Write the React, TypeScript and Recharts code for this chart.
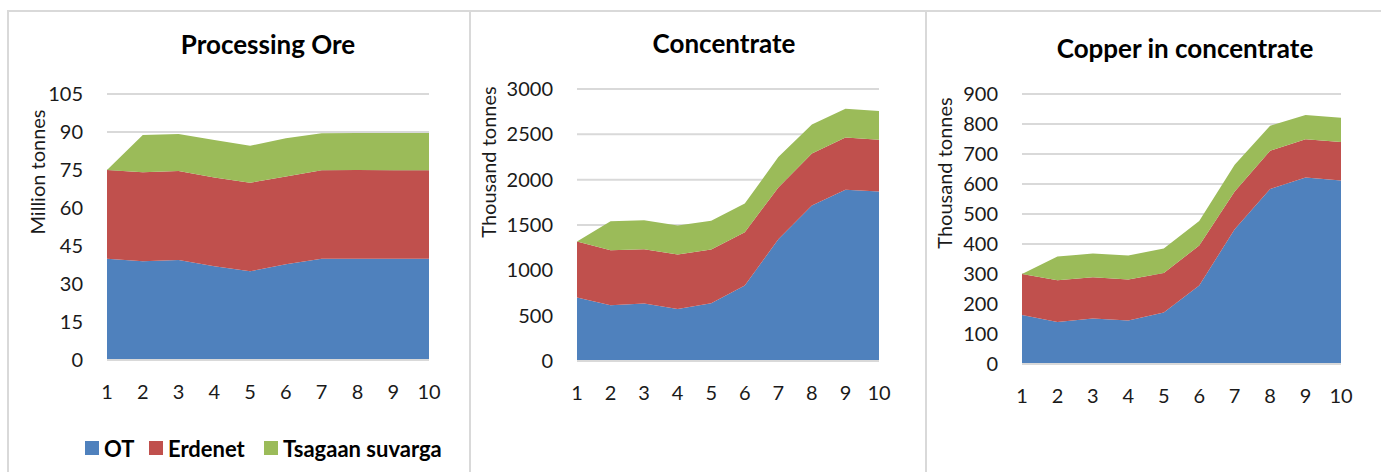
import React from 'react'
import { AreaChart, Area, XAxis, YAxis, CartesianGrid } from 'recharts'

const PERIODS = ['1', '2', '3', '4', '5', '6', '7', '8', '9', '10']
const SERIES_NAMES = ['OT', 'Erdenet', 'Tsagaan suvarga']
const SERIES_COLORS = ['#4f81bd', '#c0504d', '#9bbb59']

// Processing ore, million tonnes
const ORE_OT = [40, 39, 39.5, 37, 35, 37.8, 40, 40, 40, 40]
const ORE_ERDENET = [35, 35.1, 35.1, 35, 35, 34.6, 34.9, 35, 34.9, 34.9]
const ORE_TSAGAAN = [0, 14.7, 14.6, 14.8, 14.6, 15.1, 14.6, 14.6, 14.7, 14.7]
const ORE_TICKS = [0, 15, 30, 45, 60, 75, 90, 105]

// Concentrate, thousand tonnes
const CON_OT = [700, 615, 633, 574, 637, 832, 1343, 1715, 1888, 1870]
const CON_ERDENET = [618, 607, 600, 600, 592, 589, 571, 574, 578, 570]
const CON_TSAGAAN = [0, 320, 320, 320, 317, 316, 335, 320, 316, 317]
const CON_TICKS = [0, 500, 1000, 1500, 2000, 2500, 3000]

// Copper in concentrate, thousand tonnes
const CU_OT = [163, 140, 152, 145, 172, 262, 449, 583, 622, 612]
const CU_ERDENET = [137, 139, 137, 137, 131, 133, 126, 128, 127, 128]
const CU_TSAGAAN = [0, 79, 79, 80, 82, 82, 89, 83, 81, 81]
const CU_TICKS = [0, 100, 200, 300, 400, 500, 600, 700, 800, 900]

const FONT = 'Lato, Calibri, "Noto Sans", sans-serif'
const GRID = '#d9d9d9'
const PAGE_H = 472

function buildRows(ot: number[], erd: number[], tsg: number[]) {
  return PERIODS.map((p, i) => ({ period: p, ot: ot[i], erd: erd[i], tsg: tsg[i] }))
}

interface PanelProps {
  left: number
  right: number
  plotLeft: number
  plotRight: number
  plotTop: number
  plotBottom: number
  title: string
  titleX: number
  titleY: number
  yLabel: string
  yLabelX: number
  yLabelY: number
  ticks: number[]
  rows: ReturnType<typeof buildRows>
}

function Panel(p: PanelProps) {
  const width = p.right - p.left
  const xAxisH = 40
  const tickStyle = { fontSize: 20, fill: '#1a1a1a', fontFamily: FONT }
  return (
    <>
      <div
        style={{
          position: 'absolute',
          left: p.left,
          top: 10,
          width: width - 2,
          height: 480,
          border: `2px solid ${GRID}`,
          boxSizing: 'content-box',
        }}
      />
      <div style={{ position: 'absolute', left: p.left, top: 0 }}>
        <AreaChart
          width={width}
          height={PAGE_H}
          data={p.rows}
          margin={{
            top: p.plotTop,
            right: p.right - p.plotRight,
            bottom: PAGE_H - p.plotBottom - xAxisH,
            left: 0,
          }}
        >
          <CartesianGrid vertical={false} stroke={GRID} strokeWidth={2} />
          <XAxis
            dataKey="period"
            height={xAxisH}
            axisLine={{ stroke: GRID, strokeWidth: 2 }}
            tickLine={false}
            tickSize={0}
            tickMargin={25}
            tick={tickStyle}
            interval={0}
          />
          <YAxis
            width={p.plotLeft - p.left}
            domain={[p.ticks[0], p.ticks[p.ticks.length - 1]]}
            ticks={p.ticks}
            axisLine={false}
            tickLine={false}
            tickSize={0}
            tickMargin={24}
            tick={tickStyle}
            interval={0}
          />
          <Area type="linear" dataKey="ot" stackId="1" stroke="none" fill={SERIES_COLORS[0]} fillOpacity={1} isAnimationActive={false} />
          <Area type="linear" dataKey="erd" stackId="1" stroke="none" fill={SERIES_COLORS[1]} fillOpacity={1} isAnimationActive={false} />
          <Area type="linear" dataKey="tsg" stackId="1" stroke="none" fill={SERIES_COLORS[2]} fillOpacity={1} isAnimationActive={false} />
        </AreaChart>
      </div>
      <svg
        width={1381}
        height={PAGE_H}
        style={{ position: 'absolute', left: 0, top: 0, pointerEvents: 'none' }}
      >
        <text x={p.titleX} y={p.titleY} textAnchor="middle" fontFamily={FONT} fontWeight={700} fontSize={26} fill="#000">
          {p.title}
        </text>
        <text
          x={p.yLabelX}
          y={p.yLabelY}
          textAnchor="middle"
          dominantBaseline="central"
          transform={`rotate(-90 ${p.yLabelX} ${p.yLabelY})`}
          fontFamily={FONT}
          fontSize={20}
          fill="#1a1a1a"
        >
          {p.yLabel}
        </text>
      </svg>
    </>
  )
}

export default function App() {
  const legendX = [85, 149, 264]
  return (
    <div
      style={{
        position: 'absolute',
        left: 0,
        top: 0,
        width: 1381,
        height: PAGE_H,
        background: '#fff',
        overflow: 'hidden',
        fontFamily: FONT,
      }}
    >
      <Panel
        left={7}
        right={469}
        plotLeft={107}
        plotRight={429}
        plotTop={94}
        plotBottom={360}
        title="Processing Ore"
        titleX={268}
        titleY={54}
        yLabel="Million tonnes"
        yLabelX={37}
        yLabelY={172}
        ticks={ORE_TICKS}
        rows={buildRows(ORE_OT, ORE_ERDENET, ORE_TSAGAAN)}
      />
      <Panel
        left={469}
        right={925}
        plotLeft={577}
        plotRight={879}
        plotTop={89}
        plotBottom={361}
        title="Concentrate"
        titleX={724}
        titleY={53}
        yLabel="Thousand tonnes"
        yLabelX={488}
        yLabelY={162}
        ticks={CON_TICKS}
        rows={buildRows(CON_OT, CON_ERDENET, CON_TSAGAAN)}
      />
      <Panel
        left={925}
        right={1381}
        plotLeft={1022}
        plotRight={1341}
        plotTop={94}
        plotBottom={364}
        title="Copper in concentrate"
        titleX={1185}
        titleY={58}
        yLabel="Thousand tonnes"
        yLabelX={944}
        yLabelY={173}
        ticks={CU_TICKS}
        rows={buildRows(CU_OT, CU_ERDENET, CU_TSAGAAN)}
      />
      {SERIES_NAMES.map((name, i) => (
        <div
          key={name}
          style={{
            position: 'absolute',
            left: legendX[i],
            top: 436,
            height: 24,
            display: 'flex',
            alignItems: 'center',
            gap: 5,
            fontSize: 22,
            fontWeight: 700,
            color: '#000',
          }}
        >
          <span style={{ width: 14, height: 14, background: SERIES_COLORS[i], display: 'inline-block' }} />
          <span>{name}</span>
        </div>
      ))}
    </div>
  )
}
